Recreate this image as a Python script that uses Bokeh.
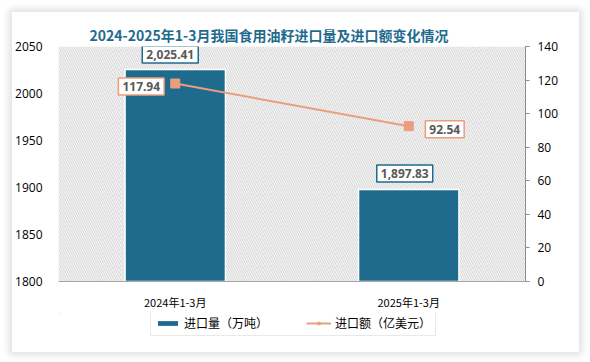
from bokeh.plotting import figure
from bokeh.layouts import column
from bokeh.models import (Range1d, LinearAxis, FixedTicker, BoxAnnotation, Label,
                          Legend, LegendItem, ColumnDataSource)
from bokeh.embed import file_html
from bokeh.resources import INLINE

# ---- data ----
categories = ["2024年1-3月", "2025年1-3月"]
volume = [2025.41, 1897.83]          # 进口量（万吨）
amount = [117.94, 92.54]             # 进口额（亿美元）
left_ticks = [1800, 1850, 1900, 1950, 2000, 2050]
right_ticks = [0, 20, 40, 60, 80, 100, 120, 140]
title_text = "2024-2025年1-3月我国食用油籽进口量及进口额变化情况"
series_names = ["进口量（万吨）", "进口额（亿美元）"]

BAR = "#1E6B8E"
LINE = "#EA9E7E"
CJK = "Noto Sans CJK SC"

xpos = [i + 0.5 for i in range(len(categories))]
src = ColumnDataSource(dict(x=xpos, vol=volume, amt=amount))

p = figure(width=567, height=300, output_backend="svg", toolbar_location=None,
           x_range=Range1d(0, len(categories)), y_range=Range1d(left_ticks[0], left_ticks[-1]),
           min_border_left=41, min_border_right=54, min_border_top=34, min_border_bottom=24,
           background_fill_color="white", border_fill_color="white", outline_line_color=None)
p.extra_y_ranges = {"right": Range1d(right_ticks[0], right_ticks[-1])}

p.title.text = title_text
p.title.text_font = CJK
p.title.text_font_size = "14px"
p.title.text_font_style = "bold"
p.title.text_color = "#1F6B8E"
p.title.align = "left"
p.title.offset = 31
p.title.standoff = 4

p.xgrid.visible = False
p.ygrid.visible = False

# hatched plot background
p.add_layout(BoxAnnotation(fill_color="white", fill_alpha=1.0, line_color=None,
                           hatch_pattern="\\", hatch_color="#cfcfcf", hatch_scale=4.5,
                           hatch_weight=1, level="underlay"))

# bars
bars = p.vbar(x="x", top="vol", width=0.43, bottom=left_ticks[0], source=src,
              fill_color=BAR, line_color="white", line_width=1.5)

# line
ln = p.line(x="x", y="amt", source=src, y_range_name="right", line_color=LINE, line_width=2)
mk = p.scatter(x="x", y="amt", source=src, y_range_name="right", marker="square",
               size=9, fill_color=LINE, line_color=LINE)

# axes
ax = p.xaxis[0]
ax.ticker = FixedTicker(ticks=xpos)
ax.major_label_overrides = {x: c for x, c in zip(xpos, categories)}
ax.major_tick_line_color = None
ax.minor_tick_line_color = None
ax.axis_line_color = "#A6A6A6"
ax.major_label_text_font = CJK
ax.major_label_text_font_size = "11px"
ax.major_label_text_color = "#000000"
ax.major_label_standoff = 6

ay = p.yaxis[0]
ay.ticker = FixedTicker(ticks=left_ticks)
ay.axis_line_color = None
ay.major_tick_line_color = None
ay.minor_tick_line_color = None
ay.major_label_text_font = "Open Sans"
ay.major_label_text_font_size = "12px"
ay.major_label_text_color = "#000000"
ay.major_label_standoff = 10

ar = LinearAxis(y_range_name="right", ticker=FixedTicker(ticks=right_ticks))
ar.axis_line_color = "#8C8C8C"
ar.major_tick_line_color = "#8C8C8C"
ar.major_tick_out = 4
ar.major_tick_in = 0
ar.minor_tick_line_color = None
ar.major_label_text_font = "Open Sans"
ar.major_label_text_font_size = "12px"
ar.major_label_text_color = "#000000"
ar.major_label_standoff = 8
p.add_layout(ar, "right")

# data labels
bar_offsets = [(-5, 15), (-4, 16)]
line_offsets = [(-34, -3), (36, -3)]
for x, v, (dx, dy) in zip(xpos, volume, bar_offsets):
    p.add_layout(Label(x=x, y=v, x_offset=dx, y_offset=dy, text=f"{v:,.2f}",
                       text_align="center", text_baseline="middle",
                       text_font="Noto Sans", text_font_size="12px", text_font_style="bold",
                       text_color="#595959", background_fill_color="white",
                       border_line_color=BAR, border_line_width=1.5, padding=4))
for x, v, (dx, dy) in zip(xpos, amount, line_offsets):
    p.add_layout(Label(x=x, y=v, x_offset=dx, y_offset=dy, y_range_name="right",
                       text=f"{v:.2f}", text_align="center", text_baseline="middle",
                       text_font="Noto Sans", text_font_size="12px", text_font_style="bold",
                       text_color="#595959", background_fill_color="white",
                       border_line_color=LINE, border_line_width=1.5, padding=4))

# ---- legend strip (separate figure below the chart) ----
p2 = figure(width=567, height=40, output_backend="svg", toolbar_location=None,
            x_range=Range1d(0, 567), y_range=Range1d(0, 40),
            x_axis_location=None, y_axis_location=None,
            min_border=0, min_border_left=0, min_border_right=0,
            min_border_top=0, min_border_bottom=0,
            background_fill_color="white", border_fill_color="white", outline_line_color=None)
p2.grid.visible = False
# legend proxies: same data, but far outside this strip's visible range
lb = p2.vbar(x="x", top="vol", width=0.43, bottom=left_ticks[0], source=src,
             fill_color=BAR, line_color=None)
ll = p2.line(x="x", y="amt", source=src, line_color=LINE, line_width=2)
lm = p2.scatter(x="x", y="amt", source=src, marker="square", size=9,
                fill_color=LINE, line_color=LINE)
legend = Legend(items=[LegendItem(label=series_names[0], renderers=[lb]),
                       LegendItem(label=series_names[1], renderers=[ll, lm])],
                orientation="horizontal", location=(92, 16),
                label_text_font=CJK, label_text_font_size="12px", label_text_color="#000000",
                glyph_width=25, glyph_height=6, spacing=38, padding=4, margin=0,
                label_standoff=4, border_line_color="#D4D4D4", border_line_width=1,
                background_fill_color="white", background_fill_alpha=1.0)
p2.add_layout(legend, "center")

layout = column(p, p2, spacing=0,
                styles={"margin-left": "12px", "margin-top": "12px",
                        "box-shadow": "0px 0px 7px 3px rgba(0,0,0,0.13)"})
open("out.html", "w").write(file_html(layout, INLINE))
